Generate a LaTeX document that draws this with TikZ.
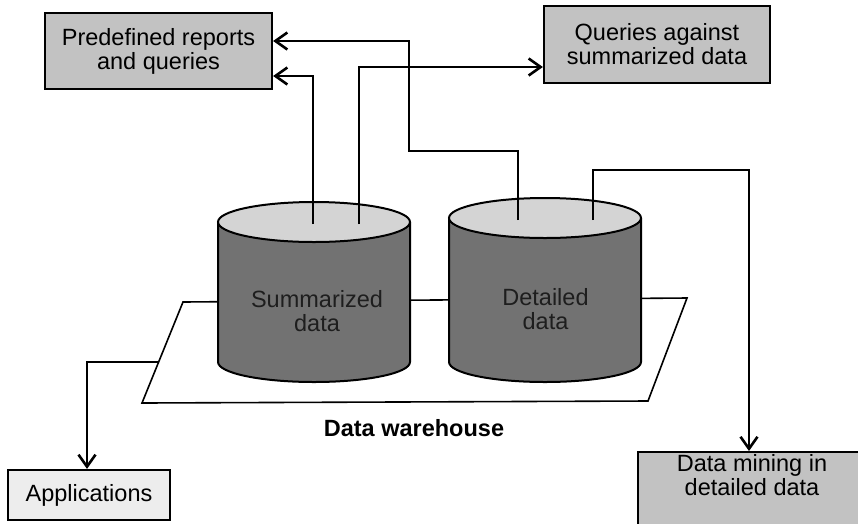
\documentclass[tikz,border=0pt]{standalone}
\usepackage{fontspec}
\setmainfont{Liberation Sans}
\usetikzlibrary{arrows.meta}
\definecolor{boxgray}{HTML}{C2C2C2}
\definecolor{appgray}{HTML}{EDEDED}
\definecolor{bodygray}{HTML}{727272}
\definecolor{topgray}{HTML}{D4D4D4}
\definecolor{inktext}{HTML}{1E1E1E}
\tikzset{
  every node/.style={font=\fontsize{23.5}{24}\selectfont, inner sep=0pt},
  infobox/.style={draw=black, line width=2.2pt, fill=boxgray, align=center},
  conn/.style={draw=black, line width=1.8pt},
  arr/.style={conn, -{Straight Barb[length=12pt, width=17pt, line width=2.6pt]}},
  cylbody/.style={fill=bodygray, draw=black, line width=2pt},
  cyltop/.style={fill=topgray, draw=black, line width=2pt},
  plate/.style={fill=white, draw=black, line width=1.6pt},
}
\begin{document}
\begin{tikzpicture}[x=1pt, y=-1pt]
\clip (0,0) rectangle (858,523);
\fill[white] (0,0) rectangle (858,523);

% output boxes
\node[infobox, minimum width=227pt, minimum height=76pt] (pre) at (158.5,51)
  {Predefined reports\\and queries};
\node[infobox, minimum width=226pt, minimum height=77pt] (qry) at (657,44.5)
  {Queries against\\summarized data};
\node[infobox, fill=appgray, minimum width=162pt, minimum height=50pt] (app) at (89,495)
  {Applications};
\node[infobox, minimum width=240pt, minimum height=90pt, anchor=north west] (mine) at (637,451) {};
\node[align=center] (minetext) at (752,475) {Data mining in\\detailed data};

% warehouse platform
\draw[plate] (142,403) -- (648,401) -- (687,298) -- (183,302) -- cycle;
\coordinate (platleft) at (158.5,362);
\node[font=\fontsize{23.5}{24}\selectfont\bfseries] (dwh) at (414,428) {Data warehouse};

% summarized data cylinder
\draw[cylbody] (218,222) -- (218,362)
  arc[start angle=180, end angle=0, x radius=96, y radius=20] -- (410,222);
\draw[cyltop] (314,222) ellipse[x radius=96, y radius=20];
\node[align=center, text=inktext] (sumtext) at (317,311) {Summarized\\data};
\coordinate (s1) at (313,224);
\coordinate (s2) at (359,224);

% detailed data cylinder
\draw[cylbody] (449,218) -- (449,362)
  arc[start angle=180, end angle=0, x radius=96, y radius=20] -- (641,218);
\draw[cyltop] (545,218) ellipse[x radius=96, y radius=20];
\node[align=center, text=inktext] (dettext) at (545.5,309) {Detailed\\data};
\coordinate (d1) at (518,220);
\coordinate (d2) at (593,220);

% connectors
\draw[arr] (d1) -- (518,151) -- (409,151) -- (409,41) -- (pre.east |- 0,41);
\draw[arr] (s1) -- (313,76) -- (pre.east |- 0,76);
\draw[arr] (s2) -- (359,67) -- (qry.west |- 0,67);
\draw[arr] (d2) -- (593,170) -- (749,170) -- (mine.north -| 749,0);
\draw[arr] (platleft) -- (87,362) -- (app.north -| 87,0);
\end{tikzpicture}
\end{document}
